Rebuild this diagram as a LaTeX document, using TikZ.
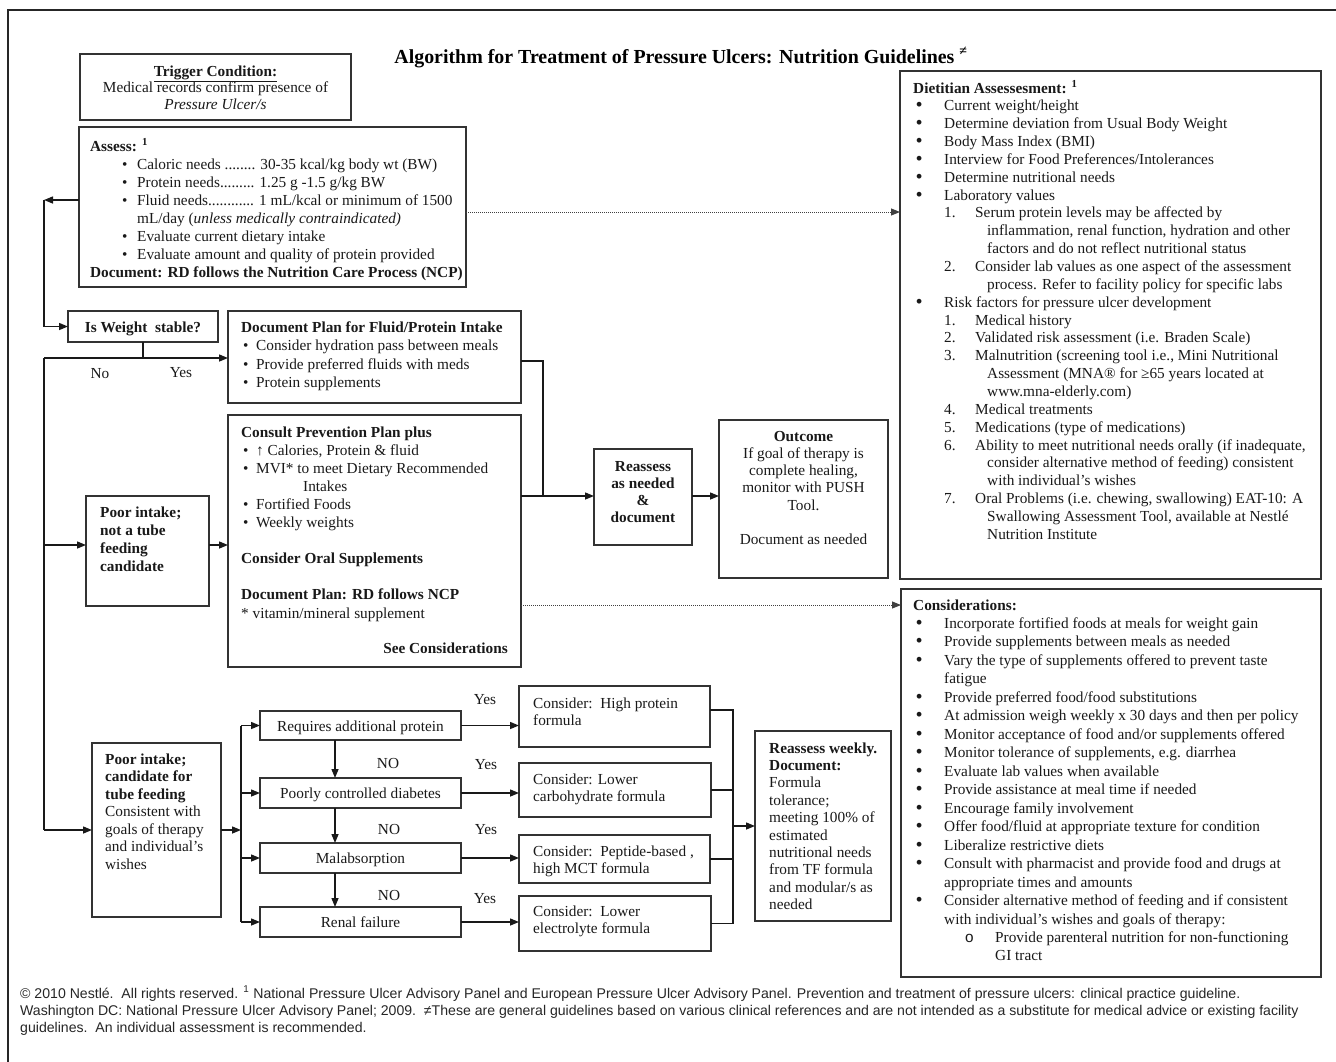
\documentclass[tikz,border=0pt]{standalone}
\usepackage{fontspec}
\setmainfont{Liberation Serif}
\newfontfamily\footfont{Liberation Sans}
\usetikzlibrary{arrows.meta}
\newcommand{\LI}[3]{\hspace*{#1pt}\makebox[#2pt][l]{#3}}
\newcommand{\TL}[1]{\begin{tabular}[t]{@{}l@{}}#1\end{tabular}}
\newcommand{\TC}[1]{\begin{tabular}[t]{@{}c@{}}#1\end{tabular}}
\newcommand{\mkbox}[5]{\node[frm,minimum width={#4pt-#2pt},minimum height={#5pt-#3pt}] (#1) at (#2,#3) {};}
\newcommand{\BB}{\scalebox{1.15}{\textbf{•}}}
\tikzset{
 frm/.style={draw=black!80, line width=1.6pt, anchor=north west, inner sep=0pt, outer sep=0pt},
 txt/.style={anchor=base west, inner sep=0pt, text=black!90, font=\fontsize{15.3}{18}\selectfont},
 ctxt/.style={anchor=base, inner sep=0pt, text=black!90, font=\fontsize{15.3}{17.4}\selectfont},
 lbl/.style={anchor=base, inner sep=0pt, text=black!90, font=\fontsize{15.3}{17}\selectfont},
 arr/.style={line width=1.4pt, draw=black!90, -{Triangle[length=9pt,width=7pt]}},
 ln/.style={line width=1.4pt, draw=black!90},
 dotarr/.style={line width=1pt, densely dotted, draw=black!75, -{Triangle[length=9pt,width=7pt]}},
}
\begin{document}
\begin{tikzpicture}[x=1pt,y=-1pt]
\useasboundingbox (0,0) rectangle (1336,1061);
\fill[white] (0,0) rectangle (1336,1061);
% outer frame
\draw[line width=1.5pt, black!85] (8,1080) -- (8,10) -- (1350,10);

% title
\node[anchor=base, inner sep=0pt, font=\bfseries\fontsize{19.9}{22}\selectfont] (title) at (681,63)
 {Algorithm for Treatment of Pressure Ulcers: Nutrition Guidelines \textsuperscript{≠}};

% trigger
\mkbox{trig}{80}{54}{351}{120}
\node[ctxt, font=\fontsize{15.3}{16.5}\selectfont] (trig-t) at (215.5,76)
 {\TC{\textbf{\underline{Trigger Condition:}}\\Medical records confirm presence of\\\textit{Pressure Ulcer/s}}};

% assess
\mkbox{assess}{79}{127}{466}{287}
\node[txt] (assess-t) at (90,151) {\TL{\textbf{Assess:} \textsuperscript{\textbf{1}}\\
\LI{32}{15}{•}Caloric needs ........ 30-35 kcal/kg body wt (BW)\\
\LI{32}{15}{•}Protein needs......... 1.25 g -1.5 g/kg BW\\
\LI{32}{15}{•}Fluid needs............ 1 mL/kcal or minimum of 1500\\
\hspace*{47pt}mL/day (\textit{unless medically contraindicated)}\\
\LI{32}{15}{•}Evaluate current dietary intake\\
\LI{32}{15}{•}Evaluate amount and quality of protein provided\\
\textbf{Document: RD follows the Nutrition Care Process (NCP)}}};

% is weight stable
\mkbox{isw}{68}{311}{218}{342}
\node[ctxt, font=\bfseries\fontsize{15.3}{17}\selectfont] (isw-t) at (143,332) {Is Weight\ \ stable?};

% document plan fluid
\mkbox{docf}{228}{311}{521}{403}
\node[txt, font=\fontsize{15.3}{18.6}\selectfont] (docf-t) at (241,332) {\TL{\textbf{Document Plan for Fluid/Protein Intake}\\
\LI{2}{13}{•}Consider hydration pass between meals\\
\LI{2}{13}{•}Provide preferred fluids with meds\\
\LI{2}{13}{•}Protein supplements}};

% consult prevention plan
\mkbox{cons}{228}{415}{521}{667}
\node[txt, font=\fontsize{15.3}{18.1}\selectfont] (cons-t) at (241,437) {\TL{\textbf{Consult Prevention Plan plus}\\
\LI{2}{13}{•}↑ Calories, Protein \& fluid\\
\LI{2}{13}{•}MVI* to meet Dietary Recommended\\
\hspace*{62pt}Intakes\\
\LI{2}{13}{•}Fortified Foods\\
\LI{2}{13}{•}Weekly weights\\
\relax\\
\textbf{Consider Oral Supplements}\\
\relax\\
\textbf{Document Plan: RD follows NCP}\\
\relax * vitamin/mineral supplement}};
\node[anchor=base east, inner sep=0pt, text=black!90, font=\bfseries\fontsize{15.3}{17}\selectfont] (seecons) at (508,653) {See Considerations};

% poor intake, not tube
\mkbox{poor}{86}{496}{209}{606}
\node[txt, font=\bfseries\fontsize{15.3}{18}\selectfont] (poor-t) at (100,517) {\TL{Poor intake;\\not a tube\\feeding\\candidate}};

% reassess
\mkbox{reass}{594}{449}{692}{545}
\node[ctxt, font=\bfseries\fontsize{15.3}{17.3}\selectfont] (reass-t) at (643,471) {\TC{Reassess\\as needed\\\&\\document}};

% outcome
\mkbox{outc}{719}{420}{888}{578}
\node[ctxt, font=\fontsize{15.3}{17.3}\selectfont] (outc-t) at (803.5,441) {\TC{\textbf{Outcome}\\If goal of therapy is\\complete healing,\\monitor with PUSH\\Tool.\\ \relax\\Document as needed}};

% dietitian
\mkbox{diet}{900}{71}{1321}{579}
\node[txt, font=\fontsize{15.3}{17.85}\selectfont] (diet-t) at (913,93) {\TL{\textbf{Dietitian Assessesment:} \textsuperscript{\textbf{1}}\\
\LI{3}{28}{\BB}Current weight/height\\
\LI{3}{28}{\BB}Determine deviation from Usual Body Weight\\
\LI{3}{28}{\BB}Body Mass Index (BMI)\\
\LI{3}{28}{\BB}Interview for Food Preferences/Intolerances\\
\LI{3}{28}{\BB}Determine nutritional needs\\
\LI{3}{28}{\BB}Laboratory values\\
\LI{31}{31}{1.}Serum protein levels may be affected by\\
\hspace*{74pt}inflammation, renal function, hydration and other\\
\hspace*{74pt}factors and do not reflect nutritional status\\
\LI{31}{31}{2.}Consider lab values as one aspect of the assessment\\
\hspace*{74pt}process. Refer to facility policy for specific labs\\
\LI{3}{28}{\BB}Risk factors for pressure ulcer development\\
\LI{31}{31}{1.}Medical history\\
\LI{31}{31}{2.}Validated risk assessment (i.e. Braden Scale)\\
\LI{31}{31}{3.}Malnutrition (screening tool i.e., Mini Nutritional\\
\hspace*{74pt}Assessment (MNA® for ≥65 years located at\\
\hspace*{74pt}www.mna-elderly.com)\\
\LI{31}{31}{4.}Medical treatments\\
\LI{31}{31}{5.}Medications (type of medications)\\
\LI{31}{31}{6.}Ability to meet nutritional needs orally (if inadequate,\\
\hspace*{74pt}consider alternative method of feeding) consistent\\
\hspace*{74pt}with individual's wishes\\
\LI{31}{31}{7.}Oral Problems (i.e. chewing, swallowing) EAT-10: A\\
\hspace*{74pt}Swallowing Assessment Tool, available at Nestlé\\
\hspace*{74pt}Nutrition Institute}};

% considerations
\mkbox{consid}{901}{589}{1321}{977}
\node[txt, font=\fontsize{15.3}{18.47}\selectfont] (consid-t) at (913,610) {\TL{\textbf{Considerations:}\\
\LI{3}{28}{\BB}Incorporate fortified foods at meals for weight gain\\
\LI{3}{28}{\BB}Provide supplements between meals as needed\\
\LI{3}{28}{\BB}Vary the type of supplements offered to prevent taste\\
\hspace*{31pt}fatigue\\
\LI{3}{28}{\BB}Provide preferred food/food substitutions\\
\LI{3}{28}{\BB}At admission weigh weekly x 30 days and then per policy\\
\LI{3}{28}{\BB}Monitor acceptance of food and/or supplements offered\\
\LI{3}{28}{\BB}Monitor tolerance of supplements, e.g. diarrhea\\
\LI{3}{28}{\BB}Evaluate lab values when available\\
\LI{3}{28}{\BB}Provide assistance at meal time if needed\\
\LI{3}{28}{\BB}Encourage family involvement\\
\LI{3}{28}{\BB}Offer food/fluid at appropriate texture for condition\\
\LI{3}{28}{\BB}Liberalize restrictive diets\\
\LI{3}{28}{\BB}Consult with pharmacist and provide food and drugs at\\
\hspace*{31pt}appropriate times and amounts\\
\LI{3}{28}{\BB}Consider alternative method of feeding and if consistent\\
\hspace*{31pt}with individual's wishes and goals of therapy:\\
\LI{52}{30}{{\footfont o}}Provide parenteral nutrition for non-functioning\\
\hspace*{82pt}GI tract}};

% tube feeding candidate
\mkbox{tube}{92}{743}{221}{917}
\node[txt, font=\fontsize{15.3}{17.5}\selectfont] (tube-t) at (105,764) {\TL{\textbf{Poor intake;}\\\textbf{candidate for}\\\textbf{tube feeding}\\Consistent with\\goals of therapy\\and individual's\\wishes}};

% decision boxes
\mkbox{req}{260}{711}{461}{740}
\node[ctxt] (req-t) at (360.5,731) {Requires additional protein};
\mkbox{diab}{260}{778}{461}{808}
\node[ctxt] (diab-t) at (360.5,798.5) {Poorly controlled diabetes};
\mkbox{mal}{260}{843}{461}{873}
\node[ctxt] (mal-t) at (360.5,863.5) {Malabsorption};
\mkbox{ren}{260}{907}{461}{937}
\node[ctxt] (ren-t) at (360.5,927.5) {Renal failure};

% consider boxes
\mkbox{c1}{519}{686}{710}{747}
\node[txt, font=\fontsize{15.3}{17.5}\selectfont] (c1-t) at (533,708) {\TL{Consider:\ \ High protein\\formula}};
\mkbox{c2}{519}{763}{711}{817}
\node[txt, font=\fontsize{15.3}{17.5}\selectfont] (c2-t) at (533,784) {\TL{Consider: Lower\\carbohydrate formula}};
\mkbox{c3}{519}{835}{710}{883}
\node[txt, font=\fontsize{15.3}{17.5}\selectfont] (c3-t) at (533,856) {\TL{Consider:\ \ Peptide-based ,\\high MCT formula}};
\mkbox{c4}{519}{896}{711}{951}
\node[txt, font=\fontsize{15.3}{17.5}\selectfont] (c4-t) at (533,916) {\TL{Consider:\ \ Lower\\electrolyte formula}};

% reassess weekly
\mkbox{week}{755}{731}{891}{921}
\node[txt, font=\fontsize{15.3}{17.4}\selectfont] (week-t) at (769,753) {\TL{\textbf{Reassess weekly.}\\\textbf{Document:}\\Formula\\tolerance;\\meeting 100\% of\\estimated\\nutritional needs\\from TF formula\\and modular/s as\\needed}};

% labels
\node[lbl] (no1) at (100,378) {No};
\node[lbl] (yes1) at (181,377) {Yes};
\node[lbl] (yes2) at (485,704) {Yes};
\node[lbl] (yes3) at (486,769) {Yes};
\node[lbl] (yes4) at (486,834) {Yes};
\node[lbl] (yes5) at (485,903) {Yes};
\node[lbl] (no2) at (388,768) {NO};
\node[lbl] (no3) at (389,834) {NO};
\node[lbl] (no4) at (389,900) {NO};

% connectors - left part
\coordinate (lx) at (44,0);
\coordinate (lA) at (44,200);
\coordinate (lB) at (44,358);
\coordinate (lP) at (44,545);
\draw[arr] (assess.west |- lA) -- (lA);
\draw[arr] (lA) |- (isw.west);
\draw[ln] (isw.south) -- (isw.south |- lB);
\draw[arr] (lB) -- (docf.west |- lB);
\draw[ln] (lB) -- (lx |- tube.west);
\draw[arr] (lP) -- (poor.west |- lP);
\draw[arr] (poor.east |- lP) -- (cons.west |- lP);
\draw[arr] (lx |- tube.west) -- (tube.west);

% to reassess
\coordinate (m1) at (543,361);
\coordinate (m2) at (543,496);
\draw[ln] (docf.east |- m1) -- (m1) -- (m2);
\draw[ln] (cons.east |- m2) -- (m2);
\draw[arr] (m2) -- (reass.west |- m2);
\draw[arr] (reass.east |- m2) -- (outc.west |- m2);

% dotted arrows
\coordinate (d1) at (0,212);
\coordinate (d2) at (0,605);
\draw[dotarr] (assess.east |- d1) -- (diet.west |- d1);
\draw[dotarr] (cons.east |- d2) -- (consid.west |- d2);

% tube part
\coordinate (bx) at (241,0);
\draw[arr] (tube.east) -- (bx |- tube.west);
\draw[ln] (bx |- req.west) -- (bx |- ren.west);
\draw[arr] (bx |- req.west) -- (req.west);
\draw[arr] (bx |- diab.west) -- (diab.west);
\draw[arr] (bx |- mal.west) -- (mal.west);
\draw[arr] (bx |- ren.west) -- (ren.west);
\coordinate (vx) at (335,0);
\draw[arr] (vx |- req.south) -- (vx |- diab.north);
\draw[arr] (vx |- diab.south) -- (vx |- mal.north);
\draw[arr] (vx |- mal.south) -- (vx |- ren.north);
\draw[arr] (req.east) -- (c1.west |- req.east);
\draw[arr] (diab.east) -- (c2.west |- diab.east);
\draw[arr] (mal.east) -- (c3.west |- mal.east);
\draw[arr] (ren.east) -- (c4.west |- ren.east);
\coordinate (rx) at (733,0);
\coordinate (r1) at (0,710);
\draw[ln] (c1.east |- r1) -- (rx |- r1) -- (rx |- c4.east) -- (c4.east);
\draw[ln] (c2.east) -- (rx |- c2.east);
\draw[ln] (c3.east) -- (rx |- c3.east);
\draw[arr] (rx |- week.west) -- (week.west);

% footer
\node[anchor=base west, inner sep=0pt, text=black!85, font=\footfont\fontsize{14.1}{17}\selectfont] (foot) at (20,998)
 {\TL{© 2010 Nestlé.\ \ All rights reserved. \textsuperscript{1} National Pressure Ulcer Advisory Panel and European Pressure Ulcer Advisory Panel. Prevention and treatment of pressure ulcers: clinical practice guideline.\\
 Washington DC: National Pressure Ulcer Advisory Panel; 2009.\ \ ≠These are general guidelines based on various clinical references and are not intended as a substitute for medical advice or existing facility\\
 guidelines.\ \ An individual assessment is recommended.}};
\end{tikzpicture}
\end{document}
